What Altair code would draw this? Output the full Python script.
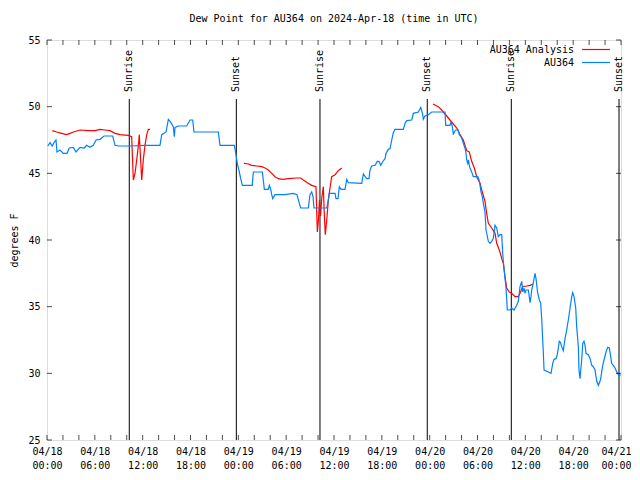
import altair as alt
import pandas as pd

# ---------------- data (hours since 2024-04-18 00:00 UTC) ----------------
blue_hours = [0.10, 0.38, 0.66, 0.92, 1.13, 1.25, 1.63, 2.04, 2.51, 2.80, 3.30, 3.64, 4.14, 4.68, 4.98,
              5.39, 5.81, 6.15, 6.65, 7.15, 8.24, 8.53, 8.94, 10.41, 12.29, 14.17, 14.39, 14.93, 15.22,
              15.55, 15.84, 15.97, 16.06, 16.47, 17.52, 17.94, 18.28, 18.44, 21.49, 21.70, 23.50, 23.71,
              23.87, 24.12, 24.30, 24.50, 25.75, 25.88, 27.01, 27.18, 27.26, 27.76, 27.89, 28.06, 28.19,
              28.31, 28.60, 29.86, 30.90, 31.36, 31.65, 31.82, 32.78, 32.99, 33.20, 33.37, 33.49, 35.09,
              35.29, 35.41, 36.13, 36.25, 36.50, 36.67, 36.88, 37.38, 37.60, 37.80, 39.48, 39.68, 40.10,
              40.39, 40.52, 40.73, 41.15, 41.43, 41.64, 41.86, 42.08, 42.40, 42.53, 42.81, 43.03, 43.24,
              43.44, 43.65, 44.70, 44.91, 45.12, 45.75, 45.95, 46.58, 46.88, 47.13, 47.20, 47.42, 47.83,
              48.26, 49.93, 50.01, 50.55, 50.68, 50.84, 50.97, 51.09, 51.27, 51.59, 51.72, 51.93, 52.10,
              52.22, 52.43, 52.56, 52.65, 52.77, 52.87, 52.97, 53.06, 53.27, 53.47, 54.03, 54.19, 54.32,
              54.44, 54.60, 54.78, 54.94, 55.07, 55.36, 55.57, 55.78, 55.98, 56.20, 56.41, 56.61, 56.82,
              57.04, 57.16, 57.24, 57.37, 57.58, 57.74, 58.08, 58.29, 58.58, 58.92, 59.12, 59.33, 59.55,
              59.67, 59.84, 59.96, 60.09, 60.38, 60.59, 60.71, 60.80, 61.00, 61.22, 61.34, 61.53, 61.76,
              61.93, 62.06, 62.26, 62.35, 62.89, 63.22, 63.44, 63.60, 63.85, 64.01, 64.26, 64.41, 64.56,
              64.76, 64.98, 65.19, 65.39, 65.61, 65.82, 65.94, 66.11, 66.32, 66.44, 66.65, 66.73, 66.86,
              66.95, 67.07, 67.20, 67.36, 67.49, 67.61, 67.90, 68.12, 68.33, 68.53, 68.74, 68.96, 69.16,
              69.37, 69.49, 69.71, 69.87, 70.12, 70.34, 70.54, 70.71, 70.83, 71.04, 71.25, 71.47, 71.67,
              71.79, 71.94]
blue_dewpoint = [47.05, 47.3, 47.05, 47.35, 47.5, 46.6, 46.75, 46.5, 46.5, 46.9, 46.95, 46.6, 46.95, 46.9, 47.1,
                 46.95, 47.1, 47.5, 47.55, 47.8, 47.8, 47.1, 47.05, 47.05, 47.1, 47.1, 47.9, 48.1, 49.05,
                 48.8, 48.5, 47.75, 48.45, 48.55, 48.55, 49.0, 49.0, 48.1, 48.1, 47.1, 47.1, 46.4,
                 45.75, 45.1, 44.6, 44.1, 44.1, 45.1, 45.1, 44.25, 43.8, 43.8, 44.1, 43.8, 43.4,
                 43.1, 43.4, 43.4, 43.5, 43.4, 42.75, 42.4, 42.4, 43.4, 43.6, 43.25, 42.4, 42.4,
                 43.0, 43.5, 43.5, 43.1, 43.1, 44.0, 43.8, 43.8, 44.55, 44.3, 44.25, 44.95, 44.6,
                 44.6, 45.25, 45.55, 45.6, 45.9, 45.9, 45.6, 45.85, 46.1, 46.5, 46.8, 46.85, 47.5,
                 48.05, 48.3, 48.3, 48.75, 48.95, 49.0, 49.5, 49.6, 49.95, 49.4, 49.05, 49.3, 49.4,
                 49.6, 49.6, 48.6, 48.6, 48.9, 48.5, 47.9, 48.1, 48.25, 48.25, 47.9, 47.75, 47.5,
                 47.25, 46.9, 46.5, 46.0, 45.75, 46.0, 45.6, 45.4, 45.1, 44.75, 44.75, 44.5, 44.1,
                 43.6, 43.25, 42.6, 42.1, 40.75, 39.9, 39.75, 39.9, 40.1, 41.1, 40.9, 40.25, 40.4,
                 40.4, 39.0, 38.4, 37.6, 36.4, 34.75, 34.75, 34.9, 34.75, 35.1, 35.4, 36.5, 36.9,
                 36.1, 36.4, 36.0, 36.25, 36.25, 35.3, 35.75, 36.25, 36.8, 37.5, 37.1, 36.1, 35.5,
                 35.25, 34.0, 31.5, 30.25, 30.1, 30.0, 30.75, 31.05, 31.1, 31.4, 32.4, 32.3, 32.0,
                 31.7, 32.6, 33.25, 34.0, 34.9, 35.75, 36.05, 35.75, 34.9, 33.5, 32.0, 30.25, 29.6,
                 30.25, 31.0, 32.25, 32.4, 32.1, 31.5, 31.4, 31.1, 30.6, 30.5, 30.25, 29.4, 29.1,
                 29.4, 29.75, 30.6, 31.0, 31.6, 31.95, 31.9, 31.25, 30.75, 30.6, 30.4, 30.1, 29.9,
                 29.8, 29.9]

red_hours = [0.66, 1.22, 1.84, 2.47, 2.89, 3.30, 4.14, 5.18, 6.02, 6.65, 7.28, 7.90, 8.53, 9.16, 10.20,
             10.62, 10.83, 11.04, 11.25, 11.45, 11.58, 11.70, 11.88, 12.08, 12.29, 12.51, 12.71, 12.92,
             24.71, 25.25, 25.68, 26.30, 26.93, 27.35, 27.76, 28.19, 28.60, 29.02, 29.57, 30.27, 31.32,
             31.82, 32.15, 32.65, 33.20, 33.74, 33.91, 34.06, 34.18, 34.31, 34.46, 34.66, 34.78, 34.91,
             35.09, 35.29, 35.50, 35.71, 36.13, 36.54, 36.97,
             48.42, 49.08, 49.51, 49.71, 50.14, 50.55, 50.97, 51.40, 51.81, 52.22, 52.65, 52.97, 53.27,
             53.60, 53.90, 54.32, 54.53, 54.94, 55.15, 55.36, 55.78, 56.20, 56.41, 56.82, 57.04, 57.24,
             57.45, 57.66, 57.99, 58.29, 58.71, 59.12, 59.33, 59.67, 60.17, 60.59, 61.00]
red_dewpoint = [48.2, 48.1, 48.0, 47.9, 48.0, 48.1, 48.25, 48.2, 48.2, 48.3, 48.25, 48.2, 48.0, 47.9, 47.85,
                47.75, 44.5, 45.0, 46.0, 47.0, 47.9, 46.5, 44.5, 46.0, 47.1, 47.9, 48.3, 48.3,
                45.75, 45.7, 45.6, 45.55, 45.5, 45.4, 45.25, 45.0, 44.75, 44.6, 44.55, 44.6, 44.65,
                44.65, 44.5, 44.3, 44.1, 44.0, 40.6, 41.6, 43.0, 41.8, 43.1, 44.0, 42.0, 40.4,
                41.5, 43.0, 43.9, 44.75, 44.9, 45.2, 45.4,
                50.2, 50.0, 49.75, 49.6, 49.3, 49.0, 48.7, 48.4, 47.9, 47.5, 46.7, 46.6, 45.9,
                45.4, 44.75, 44.25, 43.75, 42.9, 42.0, 41.25, 40.9, 40.5, 39.75, 39.1, 38.6, 38.25,
                37.25, 36.4, 36.1, 36.0, 35.75, 35.75, 36.0, 36.5, 36.55, 36.6, 36.7]
red_segment = [1] * 28 + [2] * 33 + [3] * 37

sun_hours = [10.32, 23.75, 34.24, 47.70, 58.24, 71.75]
sun_labels = ["Sunrise", "Sunset", "Sunrise", "Sunset", "Sunrise", "Sunset"]

x_label_hours = list(range(0, 73, 6))
x_tick_hours = list(range(0, 73, 2))
y_tick_values = [25, 30, 35, 40, 45, 50, 55]

series_names = ["AU364 Analysis", "AU364"]
series_colors = ["#ff0000", "#0080ff"]

# ---------------- styling ----------------
FONT = "DejaVu Sans Mono"
FS = 10
W, H = 574, 400

blue_df = pd.DataFrame({"hour": blue_hours, "dewpoint": blue_dewpoint})
red_df = pd.DataFrame({"hour": red_hours, "dewpoint": red_dewpoint, "segment": red_segment})
sun_df = pd.DataFrame({"hour": sun_hours, "label": sun_labels})
xt_df = pd.DataFrame({"hour": x_tick_hours})
yt_df = pd.DataFrame({"dewpoint": y_tick_values})

xscale = alt.Scale(domain=[0, 72], nice=False, zero=False)
yscale = alt.Scale(domain=[25, 55], nice=False, zero=False)

label_expr = ("['04/' + toString(18 + floor(datum.value / 24)), "
              "(datum.value % 24 < 10 ? '0' : '') + toString(datum.value % 24) + ':00']")

x_axis = alt.Axis(values=x_label_hours, labelExpr=label_expr, ticks=False, domain=False, grid=False,
                  labelFont=FONT, labelFontSize=FS, labelColor="black", labelPadding=6,
                  labelLineHeight=14, labelFlush=False, labelOverlap=False, title=None,
                  labelAlign={"condition": {"test": "datum.value >= 72", "value": "right"},
                              "value": "center"},
                  labelOffset={"condition": {"test": "datum.value >= 72", "value": 10},
                               "value": 0})
y_axis = alt.Axis(values=y_tick_values, ticks=False, domain=False, grid=False,
                  labelFont=FONT, labelFontSize=FS, labelColor="black", labelPadding=7,
                  title="degrees F", titleFont=FONT, titleFontSize=FS, titleFontWeight="normal",
                  titleColor="black", titlePadding=8)

X = alt.X("hour:Q", scale=xscale, axis=x_axis)
Y = alt.Y("dewpoint:Q", scale=yscale, axis=y_axis)

red = alt.Chart(red_df).mark_line(color=series_colors[0], strokeWidth=1.2).encode(
    x=X, y=Y, detail="segment:N")
blue = alt.Chart(blue_df).mark_line(color=series_colors[1], strokeWidth=1.2).encode(x=X, y=Y)

sun_rules = alt.Chart(sun_df).mark_rule(color="black", strokeWidth=1).encode(
    x=X, y=alt.value(59), y2=alt.value(H))
sun_text = alt.Chart(sun_df).mark_text(angle=270, align="left", baseline="middle",
                                       font=FONT, fontSize=FS, color="black").encode(
    x=X, y=alt.value(52), text="label:N")

tick_style = dict(color="black", thickness=1, size=5)
xt_bottom = alt.Chart(xt_df).mark_tick(**tick_style).encode(x=X, y=alt.value(H - 2.5))
xt_top = alt.Chart(xt_df).mark_tick(**tick_style).encode(x=X, y=alt.value(2.5))
yt_left = alt.Chart(yt_df).mark_tick(**tick_style).encode(y=Y, x=alt.value(2.5))
yt_right = alt.Chart(yt_df).mark_tick(**tick_style).encode(y=Y, x=alt.value(W - 2.5))

leg_df = pd.DataFrame({"name": series_names})
leg_text1 = alt.Chart(leg_df.head(1)).mark_text(align="right", baseline="middle", font=FONT,
                                                fontSize=FS, color="black",
                                                text=series_names[0]).encode(
    x=alt.value(527), y=alt.value(10))
leg_text2 = alt.Chart(leg_df.head(1)).mark_text(align="right", baseline="middle", font=FONT,
                                                fontSize=FS, color="black",
                                                text=series_names[1]).encode(
    x=alt.value(527), y=alt.value(23))
leg_line1 = alt.Chart(leg_df.head(1)).mark_rule(color=series_colors[0], strokeWidth=1.2).encode(
    x=alt.value(535), x2=alt.value(563), y=alt.value(9.5))
leg_line2 = alt.Chart(leg_df.head(1)).mark_rule(color=series_colors[1], strokeWidth=1.2).encode(
    x=alt.value(535), x2=alt.value(563), y=alt.value(22.5))

chart = alt.layer(
    sun_rules, red, blue, sun_text, xt_bottom, xt_top, yt_left, yt_right,
    leg_text1, leg_text2, leg_line1, leg_line2
).properties(
    width=W, height=H,
    title=alt.TitleParams("Dew Point for AU364 on 2024-Apr-18 (time in UTC)", font=FONT, fontSize=FS,
                          fontWeight="normal", color="black", anchor="middle", offset=11),
    padding={"left": 39, "top": 32, "right": 10, "bottom": 31},
    autosize=alt.AutoSizeParams(type="none"),
).configure_view(stroke="black", strokeWidth=1).configure(background="white")

chart.save("out.html", embed_options={"renderer": "svg", "actions": False})
